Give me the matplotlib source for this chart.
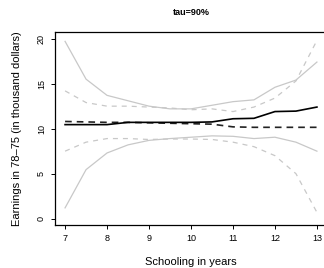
import numpy as np
import matplotlib.pyplot as plt

plt.rcParams['font.family'] = ['Liberation Sans', 'DejaVu Sans']

# --- data ---
school = [7, 7.5, 8, 8.5, 9, 9.5, 10, 10.5, 11, 11.5, 12, 12.5, 13]
est_solid = [10.45, 10.45, 10.45, 10.7, 10.7, 10.7, 10.7, 10.75, 11.1, 11.15, 11.9, 11.95, 12.4]
est_dashed = [10.8, 10.75, 10.7, 10.7, 10.65, 10.6, 10.55, 10.5, 10.2, 10.15, 10.15, 10.15, 10.15]
up_solid = [19.7, 15.5, 13.7, 13.1, 12.5, 12.2, 12.2, 12.6, 13.0, 13.2, 14.6, 15.4, 17.4]
lo_solid = [1.2, 5.45, 7.3, 8.2, 8.7, 8.9, 9.05, 9.2, 9.15, 8.9, 9.05, 8.5, 7.5]
up_dashed = [14.2, 12.9, 12.5, 12.5, 12.4, 12.3, 12.1, 12.2, 11.9, 12.4, 13.4, 15.3, 19.8]
lo_dashed = [7.5, 8.5, 8.9, 8.9, 8.8, 8.85, 8.85, 8.8, 8.5, 8.0, 7.0, 5.0, 0.7]

xticks = [7, 8, 9, 10, 11, 12, 13]
yticks = [0, 5, 10, 15, 20]

fig = plt.figure(figsize=(3.24, 2.68), dpi=100)
ax = fig.add_axes([55 / 324, 43.3 / 268, 272 / 324, 192.7 / 268])

gray = '#c8c8c8'
ax.plot(school, up_solid, color=gray, lw=0.9)
ax.plot(school, lo_solid, color=gray, lw=0.9)
ax.plot(school, up_dashed, color=gray, lw=0.9, dashes=(4, 4))
ax.plot(school, lo_dashed, color=gray, lw=0.9, dashes=(4, 4))
ax.plot(school, est_dashed, color='#222222', lw=1.2, dashes=(4, 3))
ax.plot(school, est_solid, color='black', lw=1.2)

ax.set_xlim(6.76, 13.24)
ax.set_ylim(-0.67, 20.74)
ax.set_xticks(xticks)
ax.set_yticks(yticks)
ax.set_xticklabels([str(t) for t in xticks], fontsize=6.5)
ax.set_yticklabels([str(t) for t in yticks], fontsize=6.5, rotation=90, va='center')
ax.tick_params(direction='out', length=3, width=0.7, pad=3.5)

for s in ['left', 'top', 'bottom']:
    ax.spines[s].set_linewidth(0.9)
ax.spines['right'].set_visible(False)

ax.set_xlabel('Schooling in years', fontsize=8, labelpad=10)
ax.set_ylabel('Earnings in 78\u201375 (in thousand dollars)', fontsize=8, labelpad=11)
ax.set_title('tau=90%', fontsize=6.5, fontweight='bold', pad=12)

fig.savefig('out.png', dpi=100)
